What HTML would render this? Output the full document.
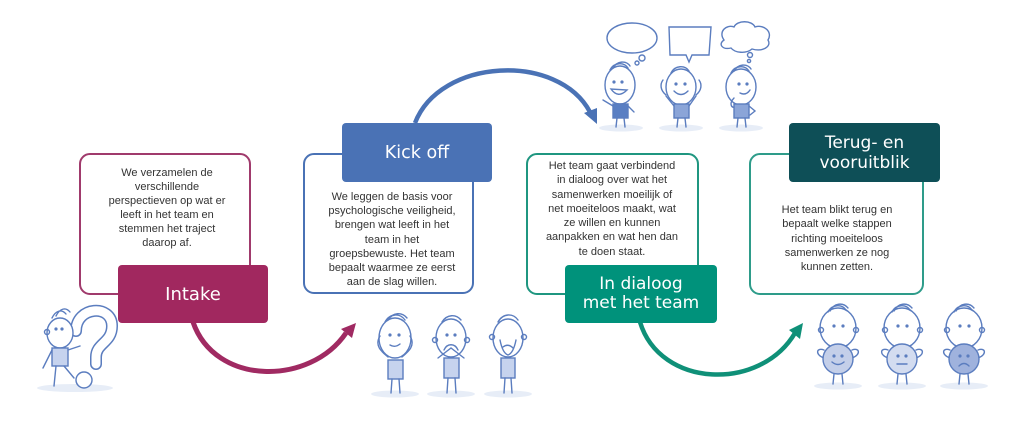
<!DOCTYPE html>
<html><head><meta charset="utf-8"><style>
html,body{margin:0;padding:0;background:#fff;}
body{width:1024px;height:430px;position:relative;overflow:hidden;font-family:"Liberation Sans",sans-serif;}
.box{position:absolute;box-sizing:border-box;border-radius:11px;background:#fff;}
.txt{position:absolute;text-align:center;font-size:11px;color:#333;font-family:"Liberation Sans",sans-serif;}
.lab{position:absolute;box-sizing:border-box;border-radius:4px;color:#fff;font-family:"DejaVu Sans",sans-serif;display:flex;align-items:center;justify-content:center;text-align:center;}
svg{position:absolute;left:0;top:0;}
</style></head><body>
<svg width="1024" height="430" viewBox="0 0 1024 430">
  <!-- arcs -->
  <path d="M193,322 C215,386 310,386 346,333" fill="none" stroke="#a02a62" stroke-width="5"/>
  <polygon points="356,323 341,329 352,338" fill="#a02a62"/>
  <path d="M415,123 C440,58 558,52 590,112" fill="none" stroke="#4a72b5" stroke-width="4.5"/>
  <polygon points="597,124 584,113 597,108" fill="#4a72b5"/>
  <path d="M640,322 C660,388 760,392 795,333" fill="none" stroke="#0f9078" stroke-width="4.5"/>
  <polygon points="803,323 789,330 800,339" fill="#0f9078"/>

  <g fill="none" stroke="#5b7dbf" stroke-width="1.4" stroke-linecap="round">
    <!-- shadows -->
    <g stroke="none" fill="#e7edf7">
      <ellipse cx="75" cy="388" rx="38" ry="4"/>
      <ellipse cx="395" cy="394" rx="24" ry="3.5"/>
      <ellipse cx="451" cy="394" rx="24" ry="3.5"/>
      <ellipse cx="508" cy="394" rx="24" ry="3.5"/>
      <ellipse cx="621" cy="128" rx="22" ry="3.5"/>
      <ellipse cx="681" cy="128" rx="22" ry="3.5"/>
      <ellipse cx="741" cy="128" rx="22" ry="3.5"/>
      <ellipse cx="838" cy="386" rx="24" ry="3.5"/>
      <ellipse cx="902" cy="386" rx="24" ry="3.5"/>
      <ellipse cx="964" cy="386" rx="24" ry="3.5"/>
    </g>

    <!-- left figure with question mark -->
    <path d="M76,331 C76,306 112,304 112,326 C112,343 96,343 96,357 L96,364" stroke="#5b7dbf" stroke-width="12"/>
    <path d="M76,331 C76,306 112,304 112,326 C112,343 96,343 96,357 L96,364" stroke="#fff" stroke-width="9"/>
    <circle cx="84" cy="380" r="8" fill="#fff"/>
    <ellipse cx="60" cy="333" rx="13" ry="15" fill="#fff"/>
    <path d="M52,318 C56,310 62,309 66,314 M56,316 C60,308 66,307 70,312"/>
    <circle cx="47" cy="332" r="2.5"/>
    <circle cx="56" cy="329" r="0.9" fill="#5b7dbf"/><circle cx="62" cy="329" r="0.9" fill="#5b7dbf"/>
    <rect x="52" y="348" width="16" height="18" fill="#c6d3ee"/>
    <path d="M52,350 L43,368 M68,350 L80,346 M56,366 L54,386 M64,366 L74,378"/>

    <!-- middle bottom figures -->
    <g>
      <ellipse cx="395" cy="338" rx="16" ry="20" fill="#fff"/>
      <path d="M385,322 C390,313 400,313 405,320 M388,320 C393,312 402,312 407,318"/>
      <circle cx="390" cy="335" r="0.9" fill="#5b7dbf"/><circle cx="399" cy="335" r="0.9" fill="#5b7dbf"/>
      <path d="M390,345 Q395,348 400,344"/>
      <path d="M380,336 C374,346 382,352 388,357 M410,336 C416,346 408,352 402,357"/>
      <rect x="388" y="360" width="15" height="19" fill="#c6d3ee"/>
      <path d="M392,379 L391,393 M399,379 L400,393"/>
    </g>
    <g>
      <ellipse cx="451" cy="338" rx="15" ry="19" fill="#fff"/>
      <path d="M442,322 C447,314 456,314 461,320"/>
      <circle cx="447" cy="335" r="0.9" fill="#5b7dbf"/><circle cx="455" cy="335" r="0.9" fill="#5b7dbf"/>
      <path d="M444,350 C447,343 455,343 458,350 M438,358 L451,348 L464,358"/>
      <circle cx="435" cy="340" r="2.5"/><circle cx="467" cy="340" r="2.5"/>
      <rect x="444" y="358" width="15" height="20" fill="#c6d3ee"/>
      <path d="M448,378 L447,393 M455,378 L456,393"/>
    </g>
    <g>
      <ellipse cx="508" cy="338" rx="15" ry="19" fill="#fff"/>
      <path d="M498,322 C503,313 513,313 518,320"/>
      <path d="M500,340 C502,350 505,354 508,355 M516,340 C514,350 511,354 508,355 M503,347 Q508,343 513,348"/>
      <circle cx="492" cy="337" r="2.5"/><circle cx="524" cy="337" r="2.5"/>
      <rect x="501" y="358" width="14" height="20" fill="#c6d3ee"/>
      <path d="M505,378 L504,393 M511,378 L512,393"/>
    </g>

    <!-- top bubbles -->
    <ellipse cx="632" cy="38" rx="25" ry="15" fill="#fff"/>
    <circle cx="642" cy="58" r="3"/><circle cx="637" cy="63" r="2"/>
    <path d="M669,27 L711,27 L709,55 L692,55 L689,62 L686,55 L670,55 Z" fill="#fff"/>
    <path d="M724,40 C718,32 726,24 734,27 C737,20 752,20 755,27 C764,24 773,32 768,40 C772,47 762,52 752,49 C746,54 735,53 731,48 C722,50 718,44 724,40 Z" fill="#fff"/>
    <circle cx="750" cy="55" r="2.5"/><circle cx="749" cy="61" r="1.6"/>

    <!-- top figures -->
    <g>
      <ellipse cx="620" cy="85" rx="15" ry="19" fill="#fff"/>
      <path d="M610,70 C614,62 624,62 628,68 M613,68 C617,61 626,60 630,66"/>
      <circle cx="614" cy="82" r="0.9" fill="#5b7dbf"/><circle cx="622" cy="82" r="0.9" fill="#5b7dbf"/>
      <path d="M611,89 Q618,99 627,90 Z" fill="#fff"/>
      <rect x="613" y="104" width="15" height="14" fill="#5a7fc3"/>
      <path d="M613,106 L603,100 M628,106 L634,112 M617,118 L616,127 M624,118 L625,127"/>
    </g>
    <g>
      <ellipse cx="681" cy="87" rx="15" ry="18" fill="#fff"/>
      <path d="M671,73 C675,65 685,65 689,71"/>
      <circle cx="676" cy="84" r="0.9" fill="#5b7dbf"/><circle cx="685" cy="84" r="0.9" fill="#5b7dbf"/>
      <path d="M674,91 Q681,98 688,91"/>
      <path d="M666,95 C660,90 660,84 663,80 M696,95 C702,90 702,84 699,80"/>
      <rect x="674" y="104" width="15" height="14" fill="#8ba5d8"/>
      <path d="M678,118 L677,127 M685,118 L686,127 M674,106 L666,96 M689,106 L696,96"/>
    </g>
    <g>
      <ellipse cx="741" cy="87" rx="15" ry="18" fill="#fff"/>
      <path d="M731,73 C735,65 745,65 749,71 M734,71 C738,64 747,63 751,69"/>
      <circle cx="739" cy="84" r="0.9" fill="#5b7dbf"/><circle cx="747" cy="84" r="0.9" fill="#5b7dbf"/>
      <path d="M740,93 Q746,96 750,90"/>
      <path d="M734,98 C728,104 732,110 737,106"/>
      <rect x="734" y="104" width="15" height="14" fill="#8ba5d8"/>
      <path d="M738,118 L737,127 M745,118 L746,127 M749,106 L755,111 L750,115"/>
    </g>

    <!-- right figures -->
    <g>
      <ellipse cx="838" cy="328" rx="18" ry="20" fill="#fff"/>
      <path d="M828,312 C832,304 842,304 846,310 M830,311 C834,303 843,302 848,308"/>
      <circle cx="834" cy="326" r="0.9" fill="#5b7dbf"/><circle cx="843" cy="326" r="0.9" fill="#5b7dbf"/>
      <circle cx="821" cy="330" r="2.5"/><circle cx="856" cy="330" r="2.5"/>
      <path d="M824,358 C815,355 816,347 824,350 M852,358 C861,355 860,347 852,350"/>
      <circle cx="838" cy="359" r="15" fill="#c4cfe9"/>
      <circle cx="834" cy="356" r="0.9" fill="#5b7dbf"/><circle cx="842" cy="356" r="0.9" fill="#5b7dbf"/>
      <path d="M832,362 Q838,367 844,362 M834,374 L833,384 M842,374 L843,384"/>
    </g>
    <g>
      <ellipse cx="902" cy="328" rx="18" ry="20" fill="#fff"/>
      <path d="M892,312 C896,304 906,304 910,310 M894,311 C898,303 907,302 912,308"/>
      <circle cx="898" cy="326" r="0.9" fill="#5b7dbf"/><circle cx="907" cy="326" r="0.9" fill="#5b7dbf"/>
      <circle cx="885" cy="330" r="2.5"/><circle cx="920" cy="330" r="2.5"/>
      <path d="M888,358 C879,355 880,347 888,350 M916,358 C925,355 924,347 916,350"/>
      <circle cx="902" cy="359" r="15" fill="#d3dcf0"/>
      <circle cx="898" cy="356" r="0.9" fill="#5b7dbf"/><circle cx="906" cy="356" r="0.9" fill="#5b7dbf"/>
      <path d="M897,364 L907,364 M898,374 L897,384 M906,374 L907,384"/>
    </g>
    <g>
      <ellipse cx="964" cy="328" rx="18" ry="20" fill="#fff"/>
      <path d="M954,312 C958,304 968,304 972,310 M956,311 C960,303 969,302 974,308"/>
      <circle cx="960" cy="326" r="0.9" fill="#5b7dbf"/><circle cx="969" cy="326" r="0.9" fill="#5b7dbf"/>
      <circle cx="947" cy="330" r="2.5"/><circle cx="982" cy="330" r="2.5"/>
      <path d="M950,358 C941,355 942,347 950,350 M978,358 C987,355 986,347 978,350"/>
      <circle cx="964" cy="359" r="15" fill="#9fb2dd"/>
      <circle cx="960" cy="356" r="0.9" fill="#5b7dbf"/><circle cx="968" cy="356" r="0.9" fill="#5b7dbf"/>
      <path d="M959,366 Q964,361 969,366 M960,374 L959,384 M968,374 L969,384"/>
    </g>
  </g>
</svg>

<!-- Intake -->
<div class="box" style="left:79px;top:153px;width:172px;height:142px;border:2px solid #a03a6c;"></div>
<div class="txt" style="left:87px;top:166px;width:160px;line-height:14px;">We verzamelen de<br>verschillende<br>perspectieven op wat er<br>leeft in het team en<br>stemmen het traject<br>daarop af.</div>
<div class="lab" style="left:118px;top:265px;width:150px;height:58px;background:#a1285f;font-size:18px;">Intake</div>

<!-- Kick off -->
<div class="box" style="left:303px;top:153px;width:171px;height:141px;border:2px solid #4a72b5;"></div>
<div class="lab" style="left:342px;top:123px;width:150px;height:59px;background:#4a72b5;font-size:17.5px;">Kick off</div>
<div class="txt" style="left:312px;top:190px;width:160px;line-height:14.2px;">We leggen de basis voor<br>psychologische veiligheid,<br>brengen wat leeft in het<br>team in het<br>groepsbewuste. Het team<br>bepaalt waarmee ze eerst<br>aan de slag willen.</div>

<!-- In dialoog -->
<div class="box" style="left:526px;top:153px;width:173px;height:142px;border:2px solid #1f9680;"></div>
<div class="txt" style="left:532px;top:159px;width:160px;line-height:14.3px;">Het team gaat verbindend<br>in dialoog over wat het<br>samenwerken moeilijk of<br>net moeiteloos maakt, wat<br>ze willen en kunnen<br>aanpakken en wat hen dan<br>te doen staat.</div>
<div class="lab" style="left:565px;top:265px;width:152px;height:58px;background:#00927b;font-size:17px;line-height:19px;">In dialoog<br>met het team</div>

<!-- Terug -->
<div class="box" style="left:749px;top:153px;width:175px;height:142px;border:2px solid #2e9c8a;"></div>
<div class="lab" style="left:789px;top:123px;width:151px;height:59px;background:#0e4f57;font-size:17px;line-height:20px;">Terug- en<br>vooruitblik</div>
<div class="txt" style="left:757px;top:203px;width:160px;line-height:14.25px;">Het team blikt terug en<br>bepaalt welke stappen<br>richting moeiteloos<br>samenwerken ze nog<br>kunnen zetten.</div>
</body></html>
